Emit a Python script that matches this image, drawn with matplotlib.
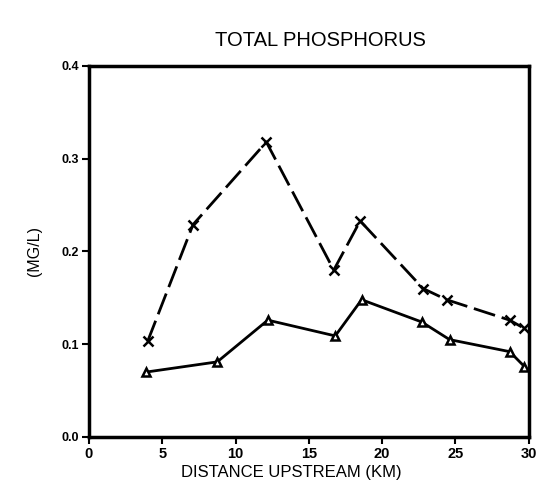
import matplotlib
import matplotlib.pyplot as plt
matplotlib.use('Agg')

# distances upstream (km) and total phosphorus (mg/l)
dist = [4.0, 7.1, 12.1, 16.7, 18.5, 22.8, 24.4, 28.7, 29.7]
phos_x = [0.103, 0.229, 0.318, 0.180, 0.233, 0.160, 0.148, 0.126, 0.117]
dist_tri = [3.9, 8.75, 12.2, 16.8, 18.6, 22.7, 24.6, 28.7, 29.7]
phos_tri = [0.070, 0.081, 0.126, 0.109, 0.148, 0.124, 0.105, 0.092, 0.076]

x_ticks = [0, 5, 10, 15, 20, 25, 30]
y_ticks = [0.0, 0.1, 0.2, 0.3, 0.4]

plt.rcParams['font.family'] = ['Liberation Sans', 'DejaVu Sans']

fig = plt.figure(figsize=(5.56, 4.94), dpi=100)
ax = fig.add_axes([0.160, 0.1154, 0.791, 0.751])

ax.plot(dist, phos_x, color='black', lw=2, dashes=(8, 2.5),
        marker='x', ms=7, mew=1.8)
ax.plot(dist_tri, phos_tri, color='black', lw=2,
        marker='^', ms=6, mew=1.8, mfc='white')

ax.set_xlim(0, 30)
ax.set_ylim(0, 0.4)
ax.set_xticks(x_ticks)
ax.set_xticklabels([str(t) for t in x_ticks], fontweight='bold', fontsize=10.5)
ax.set_yticks(y_ticks)
ax.set_yticklabels(['%.1f' % t for t in y_ticks], fontweight='bold',
                   fontsize=9)
ax.tick_params(direction='out', length=5, width=1.5, pad=2)
for sp in ax.spines.values():
    sp.set_linewidth(2.5)

ax.set_xlabel('DISTANCE UPSTREAM (KM)', fontsize=12, labelpad=1)
ax.xaxis.set_label_coords(0.46, -0.075)
ax.set_ylabel('(MG/L)', fontsize=11.5, labelpad=14)
fig.text(0.577, 0.918, 'TOTAL PHOSPHORUS', ha='center', va='center',
         fontsize=14.5)

fig.savefig('out.png', dpi=100)
